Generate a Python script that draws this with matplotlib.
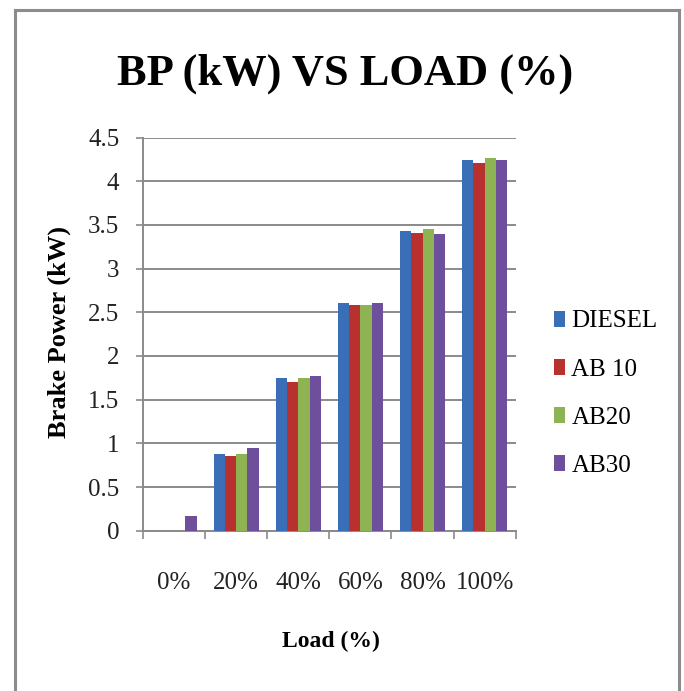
import matplotlib.pyplot as plt
import numpy as np
from matplotlib.lines import Line2D

# Brake power (kW) at each engine load, per fuel blend
loads = ['0%', '20%', '40%', '60%', '80%', '100%']
diesel = [0.0, 0.88, 1.75, 2.61, 3.43, 4.24]
ab10 = [0.0, 0.85, 1.70, 2.58, 3.41, 4.21]
ab20 = [0.0, 0.88, 1.75, 2.58, 3.45, 4.26]
ab30 = [0.17, 0.95, 1.77, 2.61, 3.40, 4.24]

series = [('DIESEL', diesel, '#3A6FB8'),
          ('AB 10', ab10, '#B8312F'),
          ('AB20', ab20, '#8DB352'),
          ('AB30', ab30, '#6E4F9B')]

plt.rcParams['font.family'] = ['Liberation Serif', 'DejaVu Serif']

fig = plt.figure(figsize=(6.84, 6.91), dpi=100)
ax = fig.add_axes([0.209, 0.232, 0.545, 0.569])

x = np.arange(len(loads))
width = 1 / 5.5  # four bars plus a 150% gap per category
for i, (name, vals, color) in enumerate(series):
    ax.bar(x + (i - 1.5) * width, vals, width, color=color, label=name, zorder=3)

ax.set_xlim(-0.5, len(loads) - 0.5)
ax.set_ylim(0, 4.5)
ax.set_yticks(np.arange(0, 4.51, 0.5))
ax.set_yticklabels(['0', '0.5', '1', '1.5', '2', '2.5', '3', '3.5', '4', '4.5'])
ax.set_xticks(x)
ax.set_xticklabels(loads)
ax.set_xticks(np.arange(-0.5, len(loads), 1), minor=True)

ax.grid(axis='y', color='#8a8a8a', linewidth=1.4, zorder=0)
for side in ['top', 'right']:
    ax.spines[side].set_visible(False)
for side in ['left', 'bottom']:
    ax.spines[side].set_color('#8a8a8a')
    ax.spines[side].set_linewidth(1.4)

ax.tick_params(axis='y', length=5, width=1.2, color='#8a8a8a', pad=12,
               labelsize=18, labelcolor='#222222')
ax.tick_params(axis='x', which='major', length=0, pad=30,
               labelsize=18, labelcolor='#222222')
ax.tick_params(axis='x', which='minor', length=6, width=1.2, color='#8a8a8a')

fig.text(0.504, 0.877, 'BP (kW) VS LOAD (%)', ha='center', va='baseline',
         fontsize=32, fontweight='bold')
fig.text(0.086, 0.52, 'Brake Power (kW)', ha='center', va='center',
         rotation=90, fontsize=19, fontweight='bold')
fig.text(0.484, 0.071, 'Load (%)', ha='center', va='center',
         fontsize=17, fontweight='bold')

ax.legend(loc='center left', bbox_to_anchor=(0.795, 0.43),
          bbox_transform=fig.transFigure, frameon=False, fontsize=18,
          handlelength=0.45, handleheight=0.6, handletextpad=0.25,
          labelspacing=1.05, borderaxespad=0)

# outer chart frame (open at the bottom)
frame = dict(color='#8c8c8c', linewidth=2.2, transform=fig.transFigure)
fig.add_artist(Line2D([0.022, 0.022], [0.0, 0.986], **frame))
fig.add_artist(Line2D([0.022, 0.993], [0.986, 0.986], **frame))
fig.add_artist(Line2D([0.993, 0.993], [0.0, 0.986], **frame))

fig.savefig('out.png', dpi=100)
